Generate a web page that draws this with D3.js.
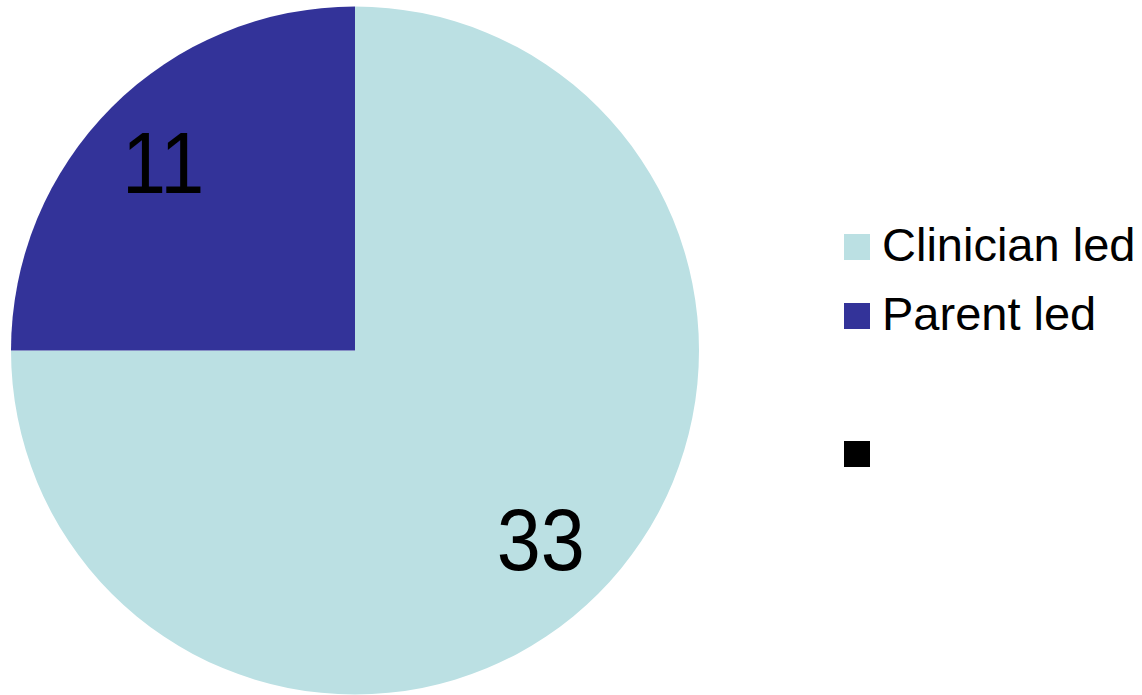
<!DOCTYPE html>
<html>
<head>
<meta charset="utf-8">
<script src="https://cdn.jsdelivr.net/npm/d3@7"></script>
<style>
  html, body { margin: 0; padding: 0; background: #fff; }
  svg { display: block; }
</style>
</head>
<body>
<svg id="chart" width="1142" height="695"></svg>
<script>
// Session types and their counts
const categories = ["Clinician led", "Parent led"];
const values = [33, 11];
const colors = ["#BBE0E3", "#333399"];

// Legend rows: the two categories, a blank row, and a bare black marker
const legendLabels = ["Clinician led", "Parent led", null, ""];
const legendColors = ["#BBE0E3", "#333399", null, "#000000"];

const svg = d3.select("#chart");
const cx = 355, cy = 350.5, radius = 344;

const data = categories.map((c, i) => ({ name: c, value: values[i], color: colors[i] }));

const pie = d3.pie().value(d => d.value).sort(null);
const arc = d3.arc().innerRadius(0).outerRadius(radius);
const labelArc = d3.arc().innerRadius(267).outerRadius(267);

const g = svg.append("g").attr("transform", `translate(${cx},${cy})`);
const arcs = pie(data);

g.selectAll("path.slice")
  .data(arcs)
  .join("path")
  .attr("class", "slice")
  .attr("d", arc)
  .attr("fill", d => d.data.color);

// Value labels inside the slices (slightly condensed glyphs)
g.selectAll("text.value")
  .data(arcs)
  .join("text")
  .attr("class", "value")
  .attr("transform", d => {
    const [x, y] = labelArc.centroid(d);
    return `translate(${x - 3},${y + 31}) scale(0.9,1)`;
  })
  .attr("text-anchor", "middle")
  .attr("font-family", "'Liberation Sans', Arial, sans-serif")
  .attr("font-size", 88)
  .attr("fill", "#000")
  .text(d => d.data.value);

// Legend
const legend = svg.append("g").attr("transform", "translate(844,234)");
const rowStep = 69;
const rows = legend.selectAll("g.row")
  .data(legendLabels.map((l, i) => ({ label: l, color: legendColors[i], i })))
  .join("g")
  .attr("class", "row")
  .attr("transform", d => `translate(0,${d.i * rowStep})`);

rows.filter(d => d.color)
  .append("rect")
  .attr("width", 26)
  .attr("height", 26)
  .attr("fill", d => d.color);

rows.filter(d => d.label)
  .append("text")
  .attr("x", 38)
  .attr("y", 27)
  .attr("font-family", "'Liberation Sans', Arial, sans-serif")
  .attr("font-size", 47)
  .attr("fill", "#000")
  .text(d => d.label);
</script>
</body>
</html>
